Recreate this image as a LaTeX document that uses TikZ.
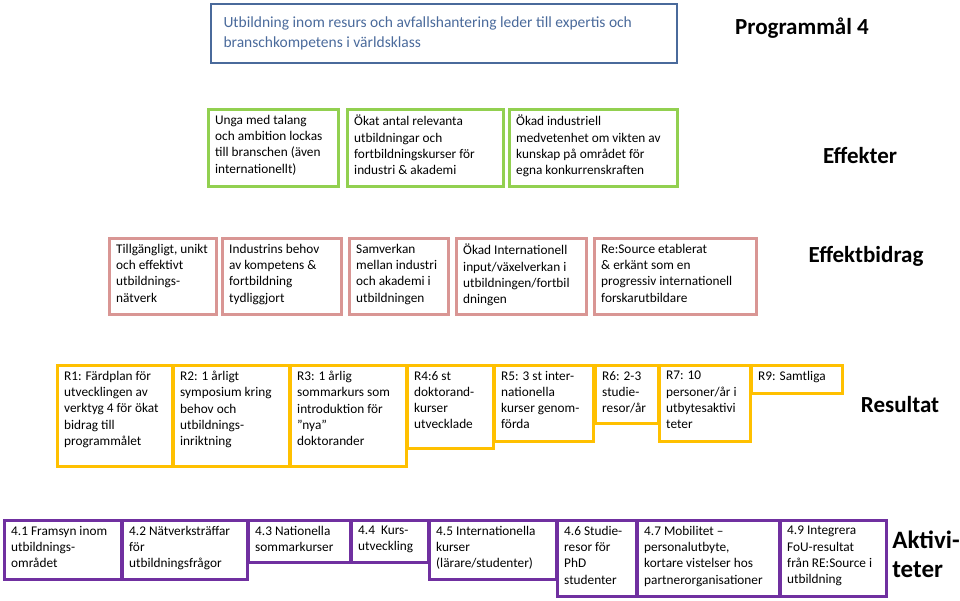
\documentclass[tikz,border=0pt]{standalone}
\usepackage{fontspec}
\setmainfont{Carlito}
\definecolor{cblue}{HTML}{4A6A9B}
\definecolor{cgreen}{HTML}{92D050}
\definecolor{cred}{HTML}{D99694}
\definecolor{cyel}{HTML}{FFC000}
\definecolor{cpur}{HTML}{7030A0}
\tikzset{
 bx/.style={draw=#1, line width=3pt, anchor=north west, inner sep=0pt},
 tx/.style={anchor=north west, align=left, inner sep=0pt, font=\fontsize{13.3}{16.2}\selectfont},
 big/.style={font=\bfseries\fontsize{23}{28}\selectfont}
}
\newcommand{\bbox}[7]{% name color x1 y1 x2 y2 text
 \node[bx=#2, minimum width=#5-#3, minimum height=#6-#4] (#1) at (#3,#4) {};
 \node[tx] (#1t) at ([xshift=8pt,yshift=-7pt]#1.north west) {#7};}
\begin{document}
\begin{tikzpicture}[x=1pt,y=-1pt]
\useasboundingbox (0,0) rectangle (960,600);
\node[bx=cblue, line width=2pt, minimum width=466, minimum height=59] (top) at (210,3) {};
\node[anchor=west, align=left, text=cblue, font=\fontsize{15.5}{20}\selectfont] (topt) at ([xshift=10pt]top.west) {Utbildning inom resurs och avfallshantering leder till expertis och\\branschkompetens i världsklass};
\node[big] (pm) at (802,28) {Programmål 4};
% green
\bbox{g1}{cgreen}{207}{108}{337}{185}{Unga med talang\\och ambition lockas\\till branschen (även\\internationellt)}
\bbox{g2}{cgreen}{346}{108}{502}{185}{Ökat antal relevanta\\utbildningar och\\fortbildningskurser för\\industri \& akademi}
\bbox{g3}{cgreen}{508}{108}{676}{185}{Ökad industriell\\medvetenhet om vikten av\\kunskap på området för\\egna konkurrenskraften}
\node[big] (eff) at (860,155) {Effekter};
% red
\bbox{r1}{cred}{108}{237}{215}{313}{Tillgängligt, unikt\\och effektivt\\utbildnings-\\nätverk}
\bbox{r2}{cred}{221}{237}{340}{313}{Industrins behov\\av kompetens \&\\fortbildning\\tydliggjort}
\bbox{r3}{cred}{348}{237}{447}{313}{Samverkan\\mellan industri\\och akademi i\\utbildningen}
\bbox{r4}{cred}{455}{237}{585}{313}{Ökad Internationell\\input/växelverkan i\\utbildningen/fortbil\\dningen}
\bbox{r5}{cred}{593}{237}{755}{313}{Re:Source etablerat\\\& erkänt som en\\progressiv internationell\\forskarutbildare}
\node[big] (eb) at (866,256) {Effektbidrag};
% yellow
\bbox{y1}{cyel}{56}{364}{171}{465}{R1: Färdplan för\\utvecklingen av\\verktyg 4 för ökat\\bidrag till\\programmålet}
\bbox{y2}{cyel}{172}{364}{288}{465}{R2: 1 årligt\\symposium kring\\behov och\\utbildnings-\\inriktning}
\bbox{y3}{cyel}{289}{364}{405}{465}{R3: 1 årlig\\sommarkurs som\\introduktion för\\”nya”\\doktorander}
\bbox{y4}{cyel}{406}{364}{492}{447}{R4:6 st\\doktorand-\\kurser\\utvecklade}
\bbox{y5}{cyel}{493}{364}{592}{440}{R5: 3 st inter-\\nationella\\kurser genom-\\förda}
\bbox{y6}{cyel}{594}{364}{657}{422}{R6: 2-3\\studie-\\resor/år}
\bbox{y7}{cyel}{658}{364}{749}{440}{R7: 10\\personer/år i\\utbytesaktivi\\teter}
\bbox{y8}{cyel}{750}{364}{841}{392}{R9: Samtliga}
\node[big] (res) at (900,405) {Resultat};
% purple
\bbox{p1}{cpur}{3}{519}{120}{578}{4.1 Framsyn inom\\utbildnings-\\området}
\bbox{p2}{cpur}{121}{519}{246}{578}{4.2 Nätverksträffar\\för\\utbildningsfrågor}
\bbox{p3}{cpur}{247}{519}{349}{561}{4.3 Nationella\\sommarkurser}
\bbox{p4}{cpur}{350}{519}{427}{561}{4.4 \ Kurs-\\utveckling}
\bbox{p5}{cpur}{428}{519}{555}{578}{4.5 Internationella\\kurser\\(lärare/studenter)}
\bbox{p6}{cpur}{556}{519}{635}{595}{4.6 Studie-\\resor för\\PhD\\studenter}
\bbox{p7}{cpur}{636}{519}{778}{595}{4.7 Mobilitet –\\personalutbyte,\\kortare vistelser hos\\partnerorganisationer}
\bbox{p8}{cpur}{779}{519}{885}{595}{4.9 Integrera\\FoU-resultat\\från RE:Source i\\utbildning}
\node[big, align=left, font=\bfseries\fontsize{25}{29}\selectfont] (akt) at (926,554) {Aktivi-\\teter};
\end{tikzpicture}
\end{document}
